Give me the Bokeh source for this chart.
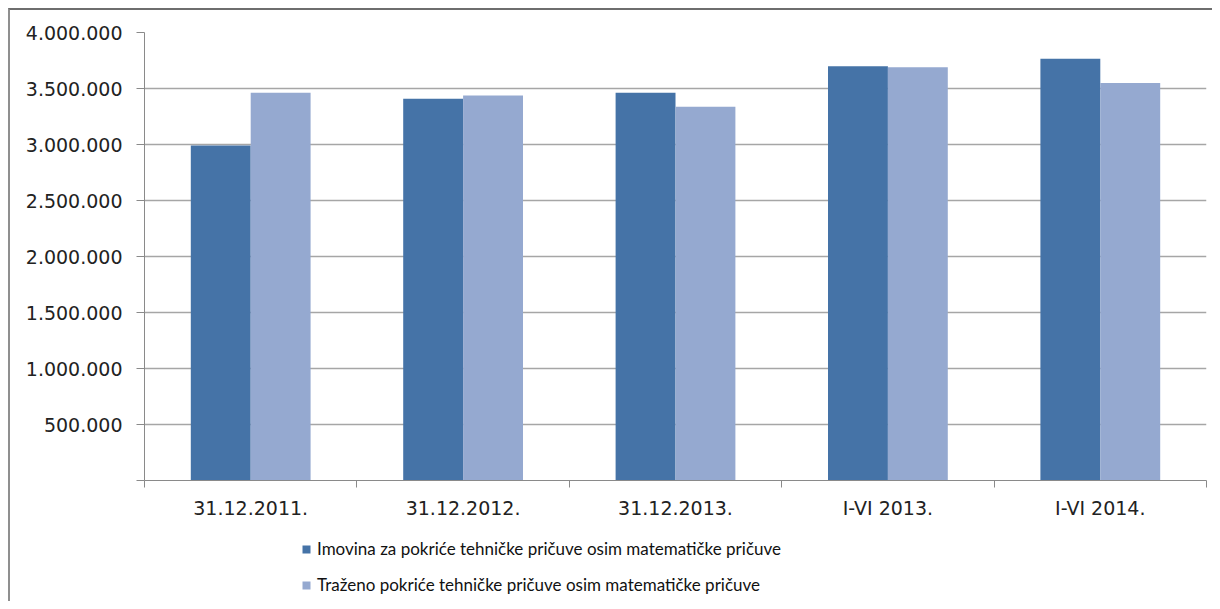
import numpy as np
from bokeh.plotting import figure
from bokeh.layouts import column
from bokeh.models import FixedTicker, Legend, LegendItem, Range1d
from bokeh.embed import file_html
from bokeh.resources import INLINE

categories = ["31.12.2011.", "31.12.2012.", "31.12.2013.", "I-VI 2013.", "I-VI 2014."]
imovina = [2990000, 3408000, 3462000, 3699000, 3765000]
trazeno = [3462000, 3437000, 3336000, 3690000, 3550000]
series_names = [
    "Imovina za pokriće tehničke pričuve osim matematičke pričuve",
    "Traženo pokriće tehničke pričuve osim matematičke pričuve",
]
y_ticks = [0, 500000, 1000000, 1500000, 2000000, 2500000, 3000000, 3500000, 4000000]

DARK = "#4573A7"
LIGHT = "#95A9D0"
COLORS = [DARK, LIGHT]

W = 1202
H_MAIN = 515
H_LEG = 76
p = figure(width=W, height=H_MAIN, output_backend="svg", toolbar_location=None,
           x_range=Range1d(0, len(categories)), y_range=Range1d(0, 4000000),
           min_border_left=134, min_border_right=6, min_border_top=22,
           min_border_bottom=45)
p.outline_line_color = None
p.background_fill_color = "white"
p.border_fill_color = "white"

idx = np.arange(len(categories)) + 0.5
bw = 0.282
r1 = p.vbar(x=idx - bw / 2, top=imovina, width=bw, fill_color=DARK, line_color=None)
r2 = p.vbar(x=idx + bw / 2, top=trazeno, width=bw, fill_color=LIGHT, line_color=None)

FONT = "DejaVu Sans"
xa = p.xaxis[0]
xa.ticker = FixedTicker(ticks=list(idx), minor_ticks=list(range(len(categories) + 1)))
xa.major_label_overrides = {float(v): c for v, c in zip(idx, categories)}
xa.major_tick_out = 0
xa.major_tick_in = 0
xa.minor_tick_out = 7
xa.minor_tick_in = 0
xa.minor_tick_line_color = "#8a8a8a"
xa.axis_line_color = "#8a8a8a"
xa.major_label_text_font = FONT
xa.major_label_text_font_size = "19px"
xa.major_label_text_color = "#222222"
xa.major_label_standoff = 9

ya = p.yaxis[0]
ya.ticker = FixedTicker(ticks=y_ticks)
ya.major_label_overrides = {v: ("" if v == 0 else f"{v:,}".replace(",", ".")) for v in y_ticks}
ya.major_tick_out = 8
ya.major_tick_in = 0
ya.minor_tick_line_color = None
ya.major_tick_line_color = "#8a8a8a"
ya.axis_line_color = "#8a8a8a"
ya.major_label_text_font = FONT
ya.major_label_text_font_size = "19px"
ya.major_label_text_color = "#222222"
ya.major_label_standoff = 14

p.xgrid.grid_line_color = None
p.ygrid.grid_line_color = "#a6a6a6"
p.ygrid.grid_line_width = 1.5

# legend figure (its frame is aligned with the main frame by the column layout)
lf = figure(width=W, height=H_LEG, output_backend="svg", toolbar_location=None,
            x_range=Range1d(0, 1), y_range=Range1d(0, 1),
            min_border_left=0, min_border_right=0, min_border_top=0, min_border_bottom=0)
lf.axis.visible = False
lf.grid.grid_line_color = None
lf.outline_line_color = None
lf.border_fill_color = "white"
leg_renderers = [lf.vbar(x=[-10], top=[0], width=0.1, fill_color=c, line_color=None) for c in COLORS]
legend = Legend(items=[LegendItem(label=n, renderers=[r]) for n, r in zip(series_names, leg_renderers)],
                location=(157, 6), orientation="vertical",
                glyph_width=10, glyph_height=10, label_standoff=6,
                spacing=15, padding=0, margin=0,
                label_text_font="Lato", label_text_font_size="17px",
                label_text_color="#111111",
                border_line_color=None, background_fill_alpha=0)
lf.add_layout(legend, "center")

layout = column(p, lf, spacing=0,
                styles={"margin-left": "8px", "margin-top": "8px",
                        "border-top": "2px solid #6e6e6e", "border-left": "2px solid #8f8f8f",
                        "background-color": "white"})

open("out.html", "w").write(file_html(layout, INLINE))
